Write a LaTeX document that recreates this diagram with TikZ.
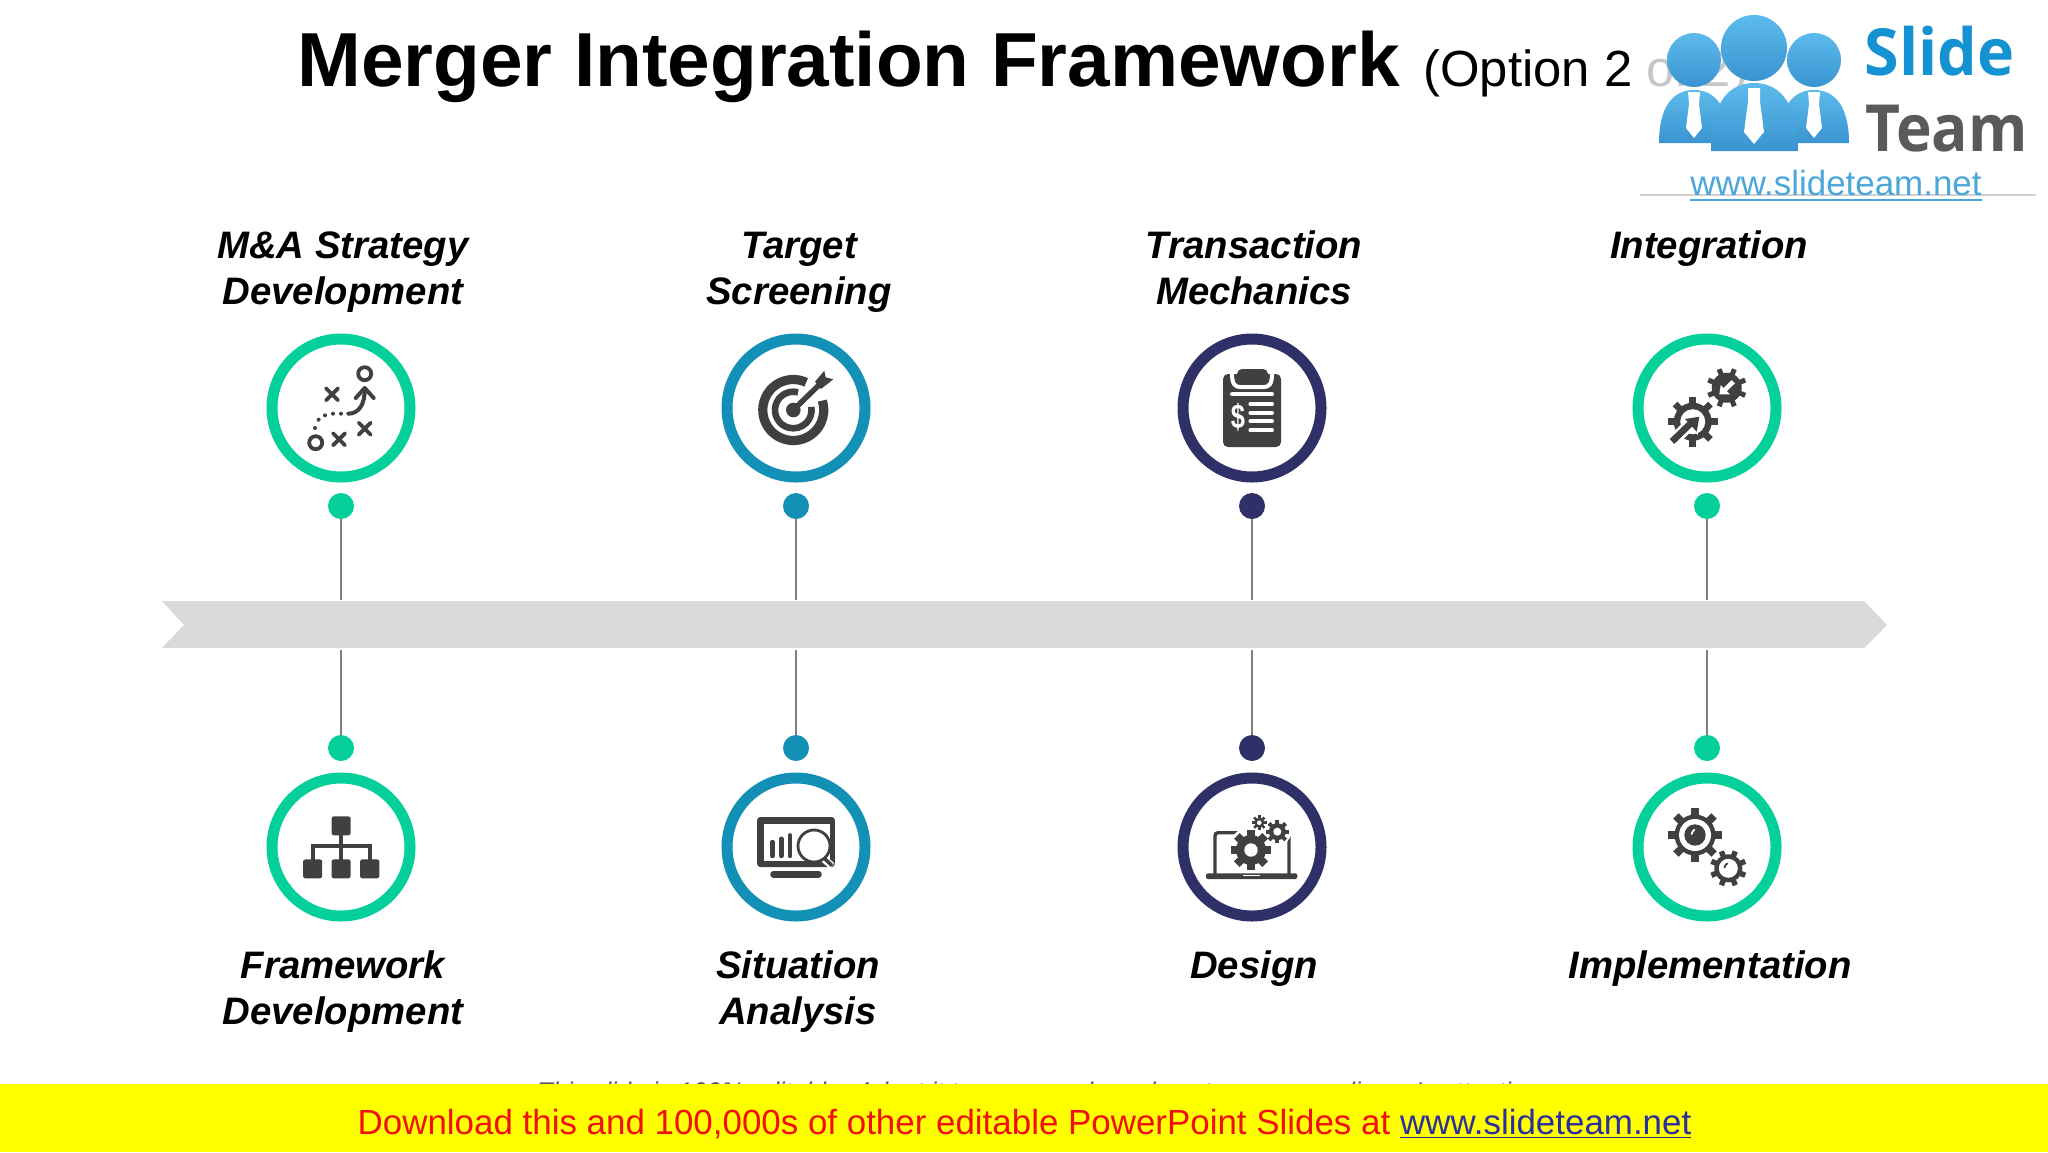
\documentclass[tikz,border=0pt]{standalone}
\usepackage{fontspec}
\setmainfont{Liberation Sans}
\newfontfamily\logofont{Open Sans}
\usetikzlibrary{calc}
\definecolor{cgreen}{HTML}{05CF9B}
\definecolor{cblue}{HTML}{1390B5}
\definecolor{cnavy}{HTML}{2F3068}
\definecolor{cicon}{HTML}{404042}
\definecolor{cband}{HTML}{D9D8DA}
\definecolor{clogo}{HTML}{4BA6DA}
\definecolor{clogotop}{HTML}{5CBBEC}
\definecolor{clogobot}{HTML}{3A94D0}
\definecolor{clink}{HTML}{2B2F9E}
\definecolor{cyell}{HTML}{FFFF00}
\definecolor{cred}{HTML}{F01010}
\definecolor{cslide}{HTML}{1592D2}
\definecolor{cteam}{HTML}{5A5A5C}
\tikzset{
  ring/.style={circle,draw=#1,line width=5.5pt,fill=white,minimum size=69pt,inner sep=0pt},
  pin/.style={circle,fill=#1,minimum size=13pt,inner sep=0pt},
  stem/.style={draw=black!50,line width=0.55pt},
  lab/.style={font=\fontsize{19.15}{23}\selectfont\bfseries\itshape,align=center,inner sep=0pt,anchor=north,text=black},
  ic/.style={fill=cicon,draw=none},
  icl/.style={draw=cicon,line width=#1 pt,fill=none},
  icl/.default=1.7,
  wl/.style={draw=white,line width=#1 pt,fill=none},
  logoshade/.style={top color=clogotop,bottom color=clogobot,draw=none},
}
% centre x, centre y, body radius, outer radius, teeth, tooth width (pt), colour, angle offset
\newcommand{\gearat}[8]{%
  \fill[#7] (#1,#2) circle[radius=#3];
  \foreach \gi in {1,...,#5}{%
    \pgfmathsetmacro{\gang}{360*\gi/#5+#8}%
    \draw[#7,line width=#6pt] (#1,#2) ++(\gang:#3-1) -- ++(\gang:#4-#3+1);
  }%
}
\newcommand{\crossat}[3]{%
  \draw[icl=1.9,line cap=round] (#1-#3,#2-#3) -- (#1+#3,#2+#3) (#1-#3,#2+#3) -- (#1+#3,#2-#3);
}
\newcommand{\capstrut}{\rule{0pt}{14.5pt}}
\begin{document}
\begin{tikzpicture}[x=0.5pt,y=-0.5pt]
\useasboundingbox (0,0) rectangle (2048,1152);
\fill[white] (0,0) rectangle (2048,1152);

% title
\node[anchor=base west,inner sep=0pt,font=\fontsize{38.3}{46}\selectfont\bfseries] (title) at (297,86) {Merger Integration Framework};
\node[anchor=base west,inner sep=0pt,font=\fontsize{25.4}{30}\selectfont] (subtitle) at (1423,86) {(Option 2 of 2)};

% logo
\fill[white,opacity=0.78] (1640,0) rectangle (2040,195);
\draw[black!18,line width=0.6pt] (1640,195) -- (2036,195);
\foreach \px in {1694,1814}{
  \shade[logoshade] (\px-35,143) .. controls (\px-35,108) and (\px-22,90) .. (\px,90) .. controls (\px+22,90) and (\px+35,108) .. (\px+35,143) -- cycle;
  \shade[top color=clogotop,bottom color=clogobot] (\px,60) circle[radius=27];
  \fill[white] (\px-6,92) -- (\px+6,92) -- (\px+5,104) -- (\px+8,128) -- (\px,138) -- (\px-8,128) -- (\px-5,104) -- cycle;
}
\shade[logoshade] (1711,151) .. controls (1711,108) and (1725,83) .. (1754,83) .. controls (1783,83) and (1798,108) .. (1798,151) -- cycle;
\shade[top color=clogotop,bottom color=clogobot] (1754,48) circle[radius=33];
\fill[white] (1748,88) -- (1760,88) -- (1760,102) -- (1764,132) -- (1754,144) -- (1744,132) -- (1748,102) -- cycle;
\node[anchor=base west,inner sep=0pt,text=cslide,font=\logofont\fontsize{32.5}{36}\selectfont\bfseries] (logoa) at (1864,75) {\scalebox{0.966}[1]{Slide}};
\node[anchor=base west,inner sep=0pt,text=cteam,font=\logofont\fontsize{32.5}{36}\selectfont\bfseries] (logob) at (1865,151) {\scalebox{0.93}[1]{Team}};
\node[anchor=base,inner sep=0pt,text=clogo,font=\fontsize{17.46}{20}\selectfont] (logourl) at (1836,195) {www.slideteam.net};
\draw[clogo,line width=1.2pt] ([yshift=-2.6pt]logourl.base west) -- ([yshift=-2.6pt]logourl.base east);

% ribbon
\coordinate (t1) at (341,600); \coordinate (t2) at (796,600); \coordinate (t3) at (1252,600); \coordinate (t4) at (1707,600);
\coordinate (u1) at (341,650); \coordinate (u2) at (796,650); \coordinate (u3) at (1252,650); \coordinate (u4) at (1707,650);
\fill[cband] (162,601) -- (1864,601) -- (1887,625) -- (1864,648) -- (162,648) -- (184,625) -- cycle;

% rings and pins
\node[ring=cgreen] (c1) at (341,408) {};
\node[ring=cblue]  (c2) at (796,408) {};
\node[ring=cnavy]  (c3) at (1252,408) {};
\node[ring=cgreen] (c4) at (1707,408) {};
\node[ring=cgreen] (c5) at (341,847) {};
\node[ring=cblue]  (c6) at (796,847) {};
\node[ring=cnavy]  (c7) at (1252,847) {};
\node[ring=cgreen] (c8) at (1707,847) {};
\node[pin=cgreen] (p1) at (341,506) {};
\node[pin=cblue]  (p2) at (796,506) {};
\node[pin=cnavy]  (p3) at (1252,506) {};
\node[pin=cgreen] (p4) at (1707,506) {};
\node[pin=cgreen] (p5) at (341,748) {};
\node[pin=cblue]  (p6) at (796,748) {};
\node[pin=cnavy]  (p7) at (1252,748) {};
\node[pin=cgreen] (p8) at (1707,748) {};
\draw[stem] (p1) -- (t1); \draw[stem] (p2) -- (t2); \draw[stem] (p3) -- (t3); \draw[stem] (p4) -- (t4);
\draw[stem] (p5) -- (u1); \draw[stem] (p6) -- (u2); \draw[stem] (p7) -- (u3); \draw[stem] (p8) -- (u4);

% icon 1: playbook
\begin{scope}[shift={(c1.center)}]
  \draw[icl=1.9] (23.7,-34.3) circle[radius=6.5];
  \draw[icl=1.9] (-25.3,34.7) circle[radius=6.5];
  \crossat{-9}{-13.7}{6}
  \crossat{-2}{31.3}{6}
  \crossat{23.7}{20.7}{6}
  \draw[icl=2,line cap=round] (7.3,5.7) .. controls (18,5.7) and (24,-4) .. (23.7,-19);
  \draw[icl=2,line cap=round,line join=round] (14.7,-10) -- (23.7,-20) -- (32.7,-10);
  \foreach \dx/\dy in {0/5.7,-8/5.7,-16/7.3,-22.4/11.7,-26/20}{\fill[cicon] (\dx,\dy) circle[radius=2];}
\end{scope}

% icon 2: target
\begin{scope}[shift={(c2.center)}]
  \draw[icl=4.6] (-2.7,2) ++(-65:30.5) arc[start angle=-65,end angle=-378,radius=30.5];
  \draw[icl=3.3] (-2.7,2) ++(-75:18.3) arc[start angle=-75,end angle=-370,radius=18.3];
  \fill[cicon] (-2.7,2) circle[radius=7.3];
  \draw[icl=2.7] (-2.7,2) -- (24,-24);
  \fill[cicon] (19,-26.3) -- (28.3,-37.3) -- (29.7,-30.7) -- (37.3,-28.7) -- (25,-19) -- cycle;
\end{scope}

% icon 3: clipboard
\begin{scope}[shift={(c3.center)}]
  \fill[ic,rounded corners=2.5pt] (-29,-34) rectangle (29,39);
  \draw[wl=2,line cap=round] (-20,-34) .. controls (-20,-24) and (-17,-21) .. (-12,-21) -- (12,-21) .. controls (17,-21) and (20,-24) .. (20,-34);
  \fill[white] (-20,-39) rectangle (20,-33.9);
  \fill[ic,rounded corners=2.5pt] (-15,-39) rectangle (16,-26);
  \draw[wl=2,line cap=round] (-20,-13.7) -- (20,-13.7);
  \foreach \ly in {-4.3,4.7,13.3,22.3}{\draw[wl=2,line cap=round] (-1.6,\ly) -- (20,\ly);}
  \node[inner sep=0pt,text=white,font=\fontsize{17}{20}\selectfont\bfseries] (dollar) at (-14,9) {\scalebox{0.75}[1]{\$}};
\end{scope}

% icon 4: integration gears
\begin{scope}[shift={(c4.center)}]
  \gearat{19.7}{-20.3}{15}{20}{8}{2.5}{cicon}{22.5}
  \draw[wl=2.3] (26.3,-26.3) -- (17,-17.3);
  \fill[white] (12.3,-13.7) -- (13.7,-23) -- (23,-13.7) -- cycle;
  \gearat{-14.3}{13.7}{19}{25}{8}{3.3}{cicon}{0}
  \fill[white] (-14.3,13.7) circle[radius=12.5];
  \draw[wl=6] (-38,37) -- (-16,15);
  \draw[wl=1.5] (-7.7,8.7) -- (-22,11) -- (-10.3,23.7) -- cycle;
  \draw[icl=3.3] (-35,33.5) -- (-16,15);
  \fill[cicon] (-7.7,8.7) -- (-22,11) -- (-10.3,23.7) -- cycle;
\end{scope}

% icon 5: hierarchy
\begin{scope}[shift={(c5.center)}]
  \draw[icl=2] (0,-12) -- (0,13) (-28.4,13) -- (-28.4,-0.7) -- (28.6,-0.7) -- (28.6,13);
  \fill[ic,rounded corners=1.2pt] (-9.5,-30.7) rectangle (9.7,-11.7);
  \fill[ic,rounded corners=1.2pt] (-38,12.3) rectangle (-18.8,31.3);
  \fill[ic,rounded corners=1.2pt] (-9.5,12.3) rectangle (9.7,31.3);
  \fill[ic,rounded corners=1.2pt] (19,12.3) rectangle (38.4,31.3);
\end{scope}

% icon 6: monitor
\begin{scope}[shift={(c6.center)}]
  \fill[ic,rounded corners=1.5pt] (-38.8,-30) rectangle (38.8,20);
  \fill[white] (-32,-23.3) rectangle (34,14);
  \foreach \bx/\bt in {-23.7/-5,-14.7/-8.3,-6/-11.7}{\draw[icl=2.2,line cap=round] (\bx,9) -- (\bx,\bt);}
  \draw[wl=3.6] (28,12) -- (36,19);
  \draw[icl=1.4,fill=white] (18,-1) circle[radius=16];
  \draw[icl=1.8] (29,12) -- (36,18.5);
  \draw[icl=3.3,line cap=round] (-22.5,27.3) -- (22.5,27.3);
\end{scope}

% icon 7: laptop design
\begin{scope}[shift={(c7.center)}]
  \draw[icl=1.7] (-37,28) -- (-37,-11) .. controls (-37,-13) and (-36,-14.3) .. (-34,-14.3) -- (35,-14.3) .. controls (36.5,-14.3) and (37,-13) .. (37,-11) -- (37,28);
  \fill[ic,rounded corners=1pt] (-46,26.3) rectangle (45.3,32);
  \draw[wl=0.8] (-8.7,28.6) -- (8,28.6);
  \fill[white] (-1,3) circle[radius=23];
  \fill[white] (25.3,-15.3) circle[radius=14];
  \gearat{-1}{3}{15}{20}{8}{4}{cicon}{0}
  \fill[white] (-1,3) circle[radius=6.7];
  \gearat{25.3}{-15.3}{8.5}{11.7}{8}{2}{cicon}{0}
  \fill[white] (25.3,-15.3) circle[radius=4];
  \gearat{7.3}{-24.3}{5}{7.3}{8}{1.3}{cicon}{0}
  \fill[white] (7.3,-24.3) circle[radius=2.3];
\end{scope}

% icon 8: two gears
\begin{scope}[shift={(c8.center)}]
  \gearat{-12}{-12}{20.5}{27}{8}{3.8}{cicon}{0}
  \fill[white] (-12,-12) circle[radius=16];
  \fill[cicon] (-12,-12) circle[radius=10.7];
  \draw[wl=0.9,line cap=round] (-15.3,-13) .. controls (-15,-15) and (-14,-16.5) .. (-12.5,-17.5);
  \gearat{21.3}{21.3}{14}{18.3}{8}{2.7}{cicon}{22.5}
  \fill[white] (21.3,21.3) circle[radius=9.5];
  \draw[icl=0.9,line cap=round] (17.5,20.5) .. controls (17.8,18.5) and (18.8,17.2) .. (20.3,16.5);
\end{scope}

% labels
\node[lab] (l1) at (343,229) {\capstrut M\&A Strategy\\Development};
\node[lab] (l2) at (799,229) {\capstrut Target\\Screening};
\node[lab] (l3) at (1254,229) {\capstrut Transaction\\Mechanics};
\node[lab] (l4) at (1709,229) {\capstrut Integration};
\node[lab] (l5) at (343,949) {\capstrut Framework\\Development};
\node[lab] (l6) at (798,949) {\capstrut Situation\\Analysis};
\node[lab] (l7) at (1254,949) {\capstrut Design};
\node[lab] (l8) at (1710,949) {\capstrut Implementation};

% footer
\node[anchor=base,inner sep=0pt,text=black!65,font=\fontsize{12.8}{15}\selectfont\itshape] (note) at (1042,1100) {This slide is 100\% editable. Adapt it to your needs and capture your audience's attention.};
\fill[cyell] (0,1084) rectangle (2048,1152);
\node[anchor=base,inner sep=0pt,font=\fontsize{17.46}{20}\selectfont] (banner) at (1024.5,1134) {\textcolor{cred}{Download this and 100,000s of other editable PowerPoint Slides at }\textcolor{clink}{\underline{www.slideteam.net}}};
\end{tikzpicture}
\end{document}
